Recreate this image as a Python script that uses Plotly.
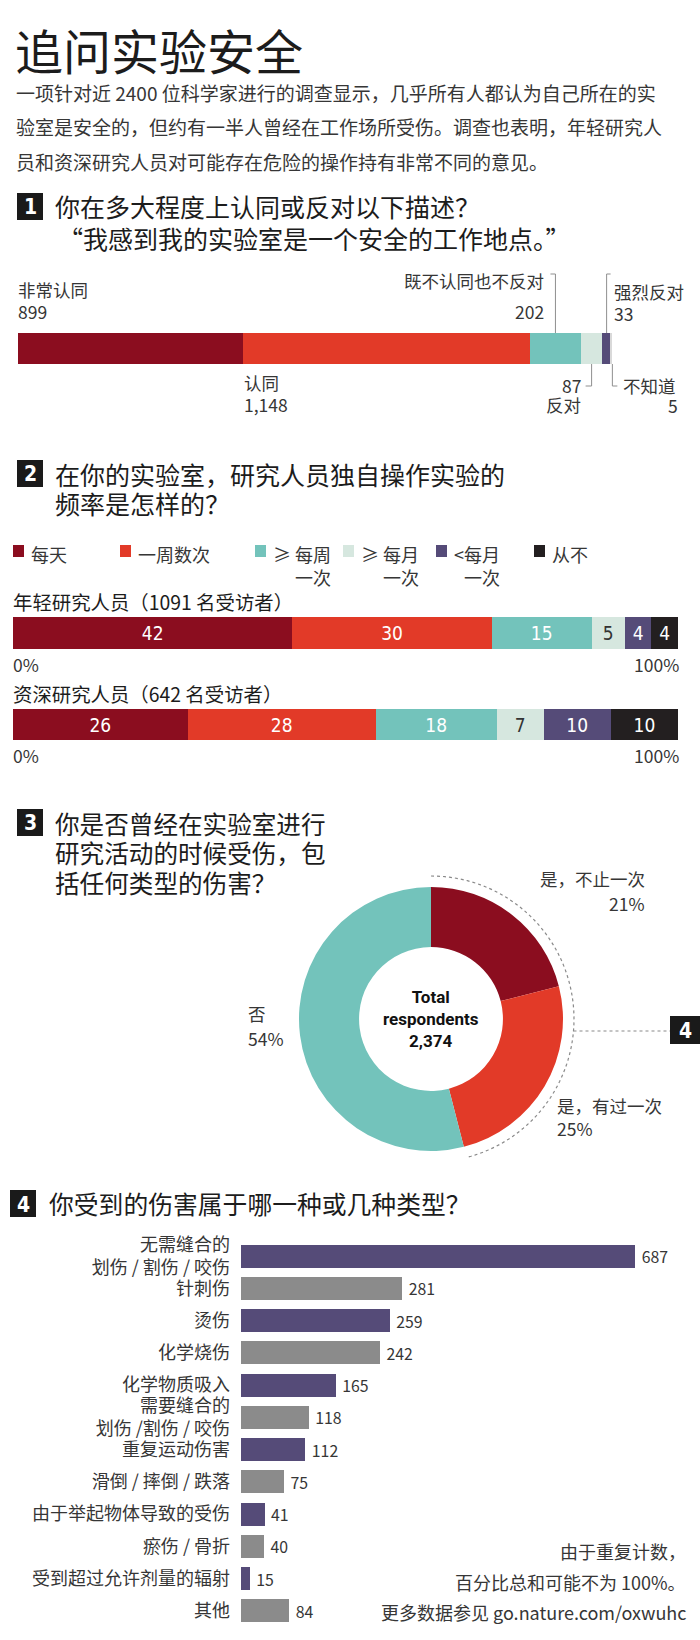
import math
import plotly.graph_objects as go

W, H = 700, 1640

# ---------------- data ----------------
TITLE = "追问实验安全"
INTRO_LINES = [
    "一项针对近 2400 位科学家进行的调查显示，几乎所有人都认为自己所在的实",
    "验室是安全的，但约有一半人曾经在工作场所受伤。调查也表明，年轻研究人",
    "员和资深研究人员对可能存在危险的操作持有非常不同的意见。",
]

Q1_TITLE = ["你在多大程度上认同或反对以下描述？", "“我感到我的实验室是一个安全的工作地点。”"]
Q1_CATEGORIES = ["非常认同", "认同", "既不认同也不反对", "反对", "强烈反对", "不知道"]
Q1_COUNTS = [899, 1148, 202, 87, 33, 5]

Q2_TITLE = ["在你的实验室，研究人员独自操作实验的", "频率是怎样的？"]
FREQ_CATEGORIES = ["每天", "一周数次", "≥ 每周<br>一次", "≥ 每月<br>一次", "<每月<br>一次", "从不"]
YOUNG_LABEL = "年轻研究人员（1091 名受访者）"
YOUNG_PCT = [42, 30, 15, 5, 4, 4]
SENIOR_LABEL = "资深研究人员（642 名受访者）"
SENIOR_PCT = [26, 28, 18, 7, 10, 10]
AXIS_ENDS = ["0%", "100%"]

Q3_TITLE = ["你是否曾经在实验室进行", "研究活动的时候受伤，包", "括任何类型的伤害？"]
INJURY_CATEGORIES = ["是，不止一次", "是，有过一次", "否"]
INJURY_PCT = [21, 25, 54]
TOTAL_RESPONDENTS = "2,374"

Q4_TITLE = "你受到的伤害属于哪一种或几种类型？"
INJURY_TYPES = [
    "无需缝合的<br>划伤 / 割伤 / 咬伤",
    "针刺伤",
    "烫伤",
    "化学烧伤",
    "化学物质吸入",
    "需要缝合的<br>划伤 /割伤 / 咬伤",
    "重复运动伤害",
    "滑倒 / 摔倒 / 跌落",
    "由于举起物体导致的受伤",
    "瘀伤 / 骨折",
    "受到超过允许剂量的辐射",
    "其他",
]
INJURY_COUNTS = [687, 281, 259, 242, 165, 118, 112, 75, 41, 40, 15, 84]
NOTES = ["由于重复计数，", "百分比总和可能不为 100%。", "更多数据参见 go.nature.com/oxwuhc"]

# ---------------- style ----------------
CJK = "Noto Sans CJK SC, Noto Sans, sans-serif"
NARROW = "Liberation Sans Narrow, DejaVu Sans Condensed, Roboto, sans-serif"
TXT = "#363636"
HEAD = "#1c1c1c"
DARK_RED = "#8b0d1f"
RED = "#e23a28"
TEAL = "#73c3bb"
MINT = "#d6e7df"
NAVY = "#554b78"
BLACK = "#231f20"
GREY = "#8b8b8b"
Q1_COLORS = [DARK_RED, RED, TEAL, MINT, NAVY, "#d9d9d9"]
FREQ_COLORS = [DARK_RED, RED, TEAL, MINT, NAVY, BLACK]
FREQ_TEXT = ["white", "white", "white", "#333333", "white", "white"]
PIE_COLORS = [DARK_RED, RED, TEAL]
BAR4_COLORS = [NAVY if i % 2 == 0 else GREY for i in range(len(INJURY_COUNTS))]
HEAD_SIZE = 25


def px(x):
    return x / W


def py(y):
    return 1 - y / H


def xd(a, b):
    return [a / W, b / W]


def yd(top, bottom):
    return [1 - bottom / H, 1 - top / H]


annotations = []
shapes = []


def text(x, y, s, size=17.5, anchor="left", color=TXT, family=CJK, yanchor="middle", align=None):
    annotations.append(dict(
        x=px(x), y=py(y), xref="paper", yref="paper", text=s, showarrow=False,
        xanchor=anchor, yanchor=yanchor, align=align or anchor, borderpad=0,
        font=dict(size=size, color=color, family=family),
    ))


def line(x0, y0, x1, y1, color="#8f8f8f", width=1, dash="solid"):
    shapes.append(dict(type="line", xref="paper", yref="paper",
                       x0=px(x0), y0=py(y0), x1=px(x1), y1=py(y1),
                       line=dict(color=color, width=width, dash=dash)))


def numbox(x0, y0, w, h, label):
    shapes.append(dict(type="rect", xref="paper", yref="paper",
                       x0=px(x0), x1=px(x0 + w), y0=py(y0 + h), y1=py(y0),
                       fillcolor="#1a1a1a", line=dict(width=0)))
    text(x0 + w / 2, y0 + h / 2 + 1, "<b>%s</b>" % label, size=21, anchor="center",
         color="white", family=NARROW)


fig = go.Figure()

# ---------------- header ----------------
text(14, 49, TITLE, size=48, color=HEAD)
for i, s in enumerate(INTRO_LINES):
    text(15, 92 + i * 35, s, size=19, color=TXT)

# ---------------- section 1 ----------------
numbox(17, 193, 26, 27, "1")
text(54, 206, Q1_TITLE[0], size=HEAD_SIZE, color=HEAD)
text(57, 238, Q1_TITLE[1], size=HEAD_SIZE, color=HEAD)

Q1_X0, Q1_X1, Q1_Y0, Q1_Y1 = 18, 612, 333, 364
for cat, val, col in zip(Q1_CATEGORIES, Q1_COUNTS, Q1_COLORS):
    fig.add_trace(go.Bar(x=[val], y=[0], orientation="h", width=1, name=cat,
                         marker=dict(color=col, line=dict(width=0)),
                         xaxis="x", yaxis="y", hoverinfo="skip"))

q1_total = sum(Q1_COUNTS)
cum = [sum(Q1_COUNTS[:i]) for i in range(len(Q1_COUNTS))]
mid_px = [Q1_X0 + (cum[i] + Q1_COUNTS[i] / 2) / q1_total * (Q1_X1 - Q1_X0) for i in range(len(Q1_COUNTS))]
start_px = [Q1_X0 + cum[i] / q1_total * (Q1_X1 - Q1_X0) for i in range(len(Q1_COUNTS))]


def fmt(v):
    return "{:,}".format(v)


# labels above/below
text(17, 290, Q1_CATEGORIES[0])
text(17, 312, fmt(Q1_COUNTS[0]))
text(start_px[1], 382, Q1_CATEGORIES[1])
text(start_px[1], 404, fmt(Q1_COUNTS[1]))
text(545, 280, Q1_CATEGORIES[2], anchor="right")
text(545, 312, fmt(Q1_COUNTS[2]), anchor="right")
line(mid_px[2], 274, mid_px[2], Q1_Y0)
line(mid_px[2] - 5, 274, mid_px[2], 274)
text(582, 385, fmt(Q1_COUNTS[3]), anchor="right")
text(582, 404, Q1_CATEGORIES[3], anchor="right")
line(mid_px[3], Q1_Y1, mid_px[3], 386)
line(mid_px[3] - 6, 386, mid_px[3], 386)
text(613, 291, Q1_CATEGORIES[4])
text(613, 313, fmt(Q1_COUNTS[4]))
line(mid_px[4], 274, mid_px[4], Q1_Y0)
line(mid_px[4], 274, mid_px[4] + 4, 274)
text(622, 385, Q1_CATEGORIES[5])
text(679, 405, fmt(Q1_COUNTS[5]), anchor="right")
line(mid_px[5] + 1, Q1_Y1, mid_px[5] + 1, 386)
line(mid_px[5] + 1, 386, mid_px[5] + 6, 386)

# ---------------- section 2 ----------------
numbox(17, 460, 26, 27, "2")
text(54, 474, Q2_TITLE[0], size=HEAD_SIZE, color=HEAD)
text(54, 503, Q2_TITLE[1], size=HEAD_SIZE, color=HEAD)

LEG_X = [13, 120, 255, 343, 436, 534]
for lx, cat, col in zip(LEG_X, FREQ_CATEGORIES, FREQ_COLORS):
    shapes.append(dict(type="rect", xref="paper", yref="paper",
                       x0=px(lx), x1=px(lx + 11), y0=py(557), y1=py(545),
                       fillcolor=col, line=dict(width=0)))
    text(lx + 17, 540, cat, size=18, yanchor="top", align="right")

for axn, label, vals, ylab, yend in [
    ("2", YOUNG_LABEL, YOUNG_PCT, 601, 664),
    ("3", SENIOR_LABEL, SENIOR_PCT, 693, 755),
]:
    text(12, ylab, label, size=19.4, color=HEAD)
    for cat, v, col, tc in zip(FREQ_CATEGORIES, vals, FREQ_COLORS, FREQ_TEXT):
        fig.add_trace(go.Bar(x=[v], y=[0], orientation="h", width=1, name=cat,
                             marker=dict(color=col, line=dict(width=0)),
                             text=[str(v)], textposition="inside", insidetextanchor="middle",
                             textangle=0, constraintext="none",
                             textfont=dict(size=19, color=tc, family=NARROW),
                             xaxis="x" + axn, yaxis="y" + axn, hoverinfo="skip"))
    text(12, yend, AXIS_ENDS[0], size=17.5)
    text(680, yend, AXIS_ENDS[1], size=17.5, anchor="right")

# ---------------- section 3 ----------------
numbox(17, 809, 26, 27, "3")
for i, s in enumerate(Q3_TITLE):
    text(54, 823 + i * 29.5, s, size=24.6, color=HEAD)

PIE_CX, PIE_CY, PIE_R = 431, 1019, 132
fig.add_trace(go.Pie(
    labels=INJURY_CATEGORIES, values=INJURY_PCT, sort=False, direction="clockwise",
    rotation=0, hole=0.545, textinfo="none", hoverinfo="skip",
    marker=dict(colors=PIE_COLORS, line=dict(width=0)),
    domain=dict(x=xd(PIE_CX - PIE_R, PIE_CX + PIE_R), y=yd(PIE_CY - PIE_R, PIE_CY + PIE_R)),
    showlegend=False,
))
text(PIE_CX, PIE_CY, "<b>Total<br>respondents<br>%s</b>" % TOTAL_RESPONDENTS,
     size=17, anchor="center", color="#111111", family="Roboto, Open Sans, sans-serif", align="center")
text(646, 878, INJURY_CATEGORIES[0], anchor="right")
text(646, 903, "%d%%" % INJURY_PCT[0], anchor="right")
text(556, 1105, INJURY_CATEGORIES[1])
text(556, 1128, "%d%%" % INJURY_PCT[1])
text(247, 1013, INJURY_CATEGORIES[2])
text(247, 1038, "%d%%" % INJURY_PCT[2])

# dotted arc around the "yes" slices
ARC_R = 143
sweep = (INJURY_PCT[0] + INJURY_PCT[1]) / sum(INJURY_PCT) * 2 * math.pi
n = 90
pts = []
for k in range(n + 1):
    t = sweep * k / n
    pts.append((px(PIE_CX + ARC_R * math.sin(t)), py(PIE_CY - ARC_R * math.cos(t))))
path = "M " + " L ".join("%.5f,%.5f" % p for p in pts)
shapes.append(dict(type="path", xref="paper", yref="paper", path=path,
                   line=dict(color="#8a8a8a", width=1.2, dash="dot")))
LINK_Y = 1031
lx0 = PIE_CX + math.sqrt(ARC_R ** 2 - (LINK_Y - PIE_CY) ** 2)
line(lx0, LINK_Y, 670, LINK_Y, color="#8a8a8a", width=1.2, dash="dot")
numbox(670, 1016, 30, 28, "4")

# ---------------- section 4 ----------------
numbox(10, 1190, 26, 27, "4")
text(48, 1203, Q4_TITLE, size=24.8, color=HEAD)

fig.add_trace(go.Bar(
    x=INJURY_COUNTS, y=INJURY_TYPES, orientation="h", width=0.71,
    marker=dict(color=BAR4_COLORS, line=dict(width=0)),
    text=[" %d" % v for v in INJURY_COUNTS], textposition="outside", cliponaxis=False,
    textfont=dict(size=18, color=TXT, family=CJK),
    xaxis="x4", yaxis="y4", hoverinfo="skip",
))

for i, s in enumerate(NOTES):
    text(687, 1551 + i * 30.5, s, size=18, anchor="right")

# ---------------- layout ----------------
hidden = dict(visible=False, fixedrange=True, showgrid=False, zeroline=False)
fig.update_layout(
    width=W, height=H, margin=dict(l=0, r=0, t=0, b=0),
    paper_bgcolor="white", plot_bgcolor="rgba(0,0,0,0)",
    template="none", barmode="stack", showlegend=False, hovermode=False,
    font=dict(family=CJK, color=TXT),
    xaxis=dict(hidden, domain=xd(Q1_X0, Q1_X1), range=[0, q1_total]),
    yaxis=dict(hidden, domain=yd(Q1_Y0, Q1_Y1), range=[-0.5, 0.5]),
    xaxis2=dict(hidden, domain=xd(13, 678), range=[0, sum(YOUNG_PCT)], anchor="y2"),
    yaxis2=dict(hidden, domain=yd(617, 649), range=[-0.5, 0.5], anchor="x2"),
    xaxis3=dict(hidden, domain=xd(13, 678), range=[0, sum(SENIOR_PCT)], anchor="y3"),
    yaxis3=dict(hidden, domain=yd(709, 740), range=[-0.5, 0.5], anchor="x3"),
    xaxis4=dict(hidden, domain=xd(241, 700), range=[0, 800], anchor="y4"),
    yaxis4=dict(domain=yd(1240, 1627), anchor="x4", type="category",
                categoryorder="array", categoryarray=INJURY_TYPES,
                range=[len(INJURY_TYPES) - 0.5, -0.5], fixedrange=True,
                showgrid=False, zeroline=False, showline=False, ticks="",
                ticklabelstandoff=10,
                tickfont=dict(size=18, color=TXT, family=CJK)),
    annotations=annotations, shapes=shapes,
)

fig.write_html("out.html", config={"displayModeBar": False},
               post_script="document.body.style.margin='0';")
